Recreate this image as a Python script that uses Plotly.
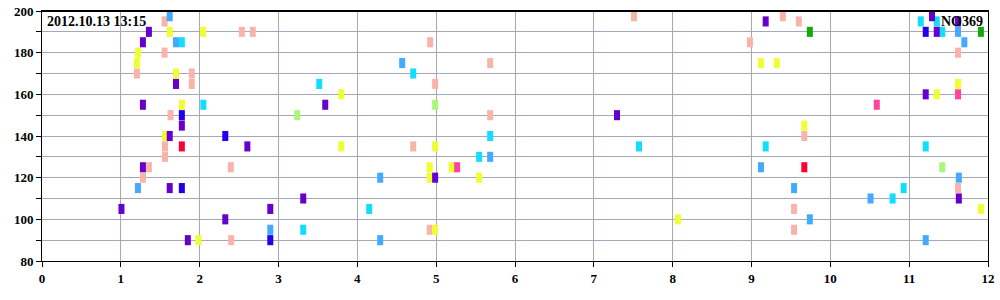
import plotly.graph_objects as go

# ---- data (x = hour, y = value), grouped by colour ----
purple_x = [1.356, 1.28, 1.70, 1.28, 1.774, 1.62, 2.605, 1.28, 1.62, 1.008, 2.325, 1.85,
            3.593, 3.314, 2.896, 4.987, 7.294, 9.18, 11.29, 11.62, 11.35, 11.21, 11.63]
purple_y = [190, 185, 165, 155, 145, 140, 135, 125, 115, 105, 100, 90,
            155, 110, 105, 120, 150, 195, 197.5, 195, 190, 160, 110]

blue_x = [1.774, 2.325, 1.774, 2.896, 11.21]
blue_y = [150, 140, 115, 90, 190]

lightblue_x = [1.62, 1.70, 1.217, 4.569, 4.29, 2.896, 4.29, 5.685, 9.12, 9.54, 10.51,
               9.74, 11.21, 11.63, 11.62, 11.70]
lightblue_y = [197.5, 185, 115, 175, 120, 95, 90, 130, 125, 115, 110,
               100, 90, 120, 190, 185]

cyan_x = [1.774, 2.047, 4.709, 3.517, 5.685, 5.545, 4.151, 3.314, 7.573, 9.18, 11.21,
          10.93, 10.79, 11.147, 11.35, 11.42]
cyan_y = [185, 155, 170, 165, 140, 130, 105, 95, 135, 135, 135,
          115, 110, 195, 195, 190]

yellow_x = [1.62, 2.045, 1.217, 1.204, 1.70, 1.774, 1.56, 1.984, 3.796, 3.796, 4.987,
            4.918, 4.918, 5.196, 5.545, 4.987, 8.067, 9.12, 9.32, 9.67, 11.62, 11.35, 11.91]
yellow_y = [190, 190, 180, 175, 170, 155, 140, 90, 160, 135, 135,
            125, 120, 125, 120, 95, 100, 175, 175, 145, 165, 160, 105]

pink_x = [1.555, 2.535, 2.674, 1.555, 1.204, 1.90, 1.90, 1.63, 1.56, 1.56, 1.356, 2.395,
          1.28, 2.40, 4.924, 4.987, 4.709, 4.918, 7.51, 5.685, 5.685, 9.398, 9.60, 8.98,
          9.67, 11.62, 11.62, 9.54, 9.54]
pink_y = [195, 190, 190, 180, 170, 170, 165, 150, 135, 130, 125, 125,
          120, 90, 185, 165, 135, 95, 197.5, 175, 150, 197.5, 195, 185,
          140, 180, 115, 105, 95]

magenta_x = [5.266, 10.589, 11.62]
magenta_y = [125, 155, 160]

red_x = [1.774, 9.67]
red_y = [135, 125]

lightgreen_x = [3.238, 4.987, 11.42]
lightgreen_y = [150, 155, 125]

green_x = [9.74, 11.91]
green_y = [190, 190]

series = [
    ("pink", pink_x, pink_y, "#f8b4aa"),
    ("yellow", yellow_x, yellow_y, "#eeff33"),
    ("lightgreen", lightgreen_x, lightgreen_y, "#aaf77a"),
    ("lightblue", lightblue_x, lightblue_y, "#44aaff"),
    ("cyan", cyan_x, cyan_y, "#11ddff"),
    ("magenta", magenta_x, magenta_y, "#ff4499"),
    ("red", red_x, red_y, "#ff0033"),
    ("green", green_x, green_y, "#11aa11"),
    ("blue", blue_x, blue_y, "#2200ee"),
    ("purple", purple_x, purple_y, "#6600cc"),
]

x_ticks = list(range(0, 13))
y_ticks = [80, 100, 120, 140, 160, 180, 200]

fig = go.Figure()
for name, xs, ys, col in series:
    fig.add_trace(go.Scatter(
        x=xs, y=ys, mode="markers", name=name, showlegend=False,
        marker=dict(symbol="line-ns", size=7.2, color=col,
                    line=dict(color=col, width=6)),
    ))

grid = "#a4a8b8"
serif = "Liberation Serif"
fig.update_layout(
    width=1000, height=300, autosize=False,
    margin=dict(l=42, r=12, t=11, b=39, pad=0),
    paper_bgcolor="white", plot_bgcolor="white",
    font=dict(family=serif, color="black"),
    showlegend=False,
)
fig.update_xaxes(
    range=[0, 12], tickvals=x_ticks, ticktext=[str(v) for v in x_ticks],
    automargin=False,
    showgrid=True, gridcolor=grid, gridwidth=1, zeroline=False,
    showline=True, linecolor="black", linewidth=1, mirror=True,
    ticks="outside", ticklen=5, tickcolor="black",
    tickfont=dict(family=serif, size=13, color="black", weight="bold"),
)
fig.update_yaxes(
    range=[80, 200], tickvals=y_ticks, ticktext=[str(v) for v in y_ticks],
    automargin=False,
    showgrid=True, gridcolor=grid, gridwidth=1, zeroline=False,
    showline=True, linecolor="black", linewidth=1, mirror=True,
    ticks="outside", ticklen=5, tickcolor="black",
    minor=dict(dtick=10, showgrid=True, gridcolor=grid, ticks="outside",
               ticklen=5, tickcolor="black"),
    tickfont=dict(family=serif, size=13, color="black", weight="bold"),
)
# thicker top frame
fig.add_shape(type="line", xref="paper", yref="paper", x0=0, x1=1, y0=1, y1=1,
              line=dict(color="black", width=2))

fig.add_annotation(text="2012.10.13 13:15", xref="paper", yref="paper",
                   x=0.003, y=0.995, xanchor="left", yanchor="top", showarrow=False,
                   font=dict(family=serif, size=14, color="black", weight="bold"))
fig.add_annotation(text="NO369", xref="paper", yref="paper",
                   x=0.997, y=0.995, xanchor="right", yanchor="top", showarrow=False,
                   font=dict(family=serif, size=14, color="black", weight="bold"))

fig.write_html("out.html")
